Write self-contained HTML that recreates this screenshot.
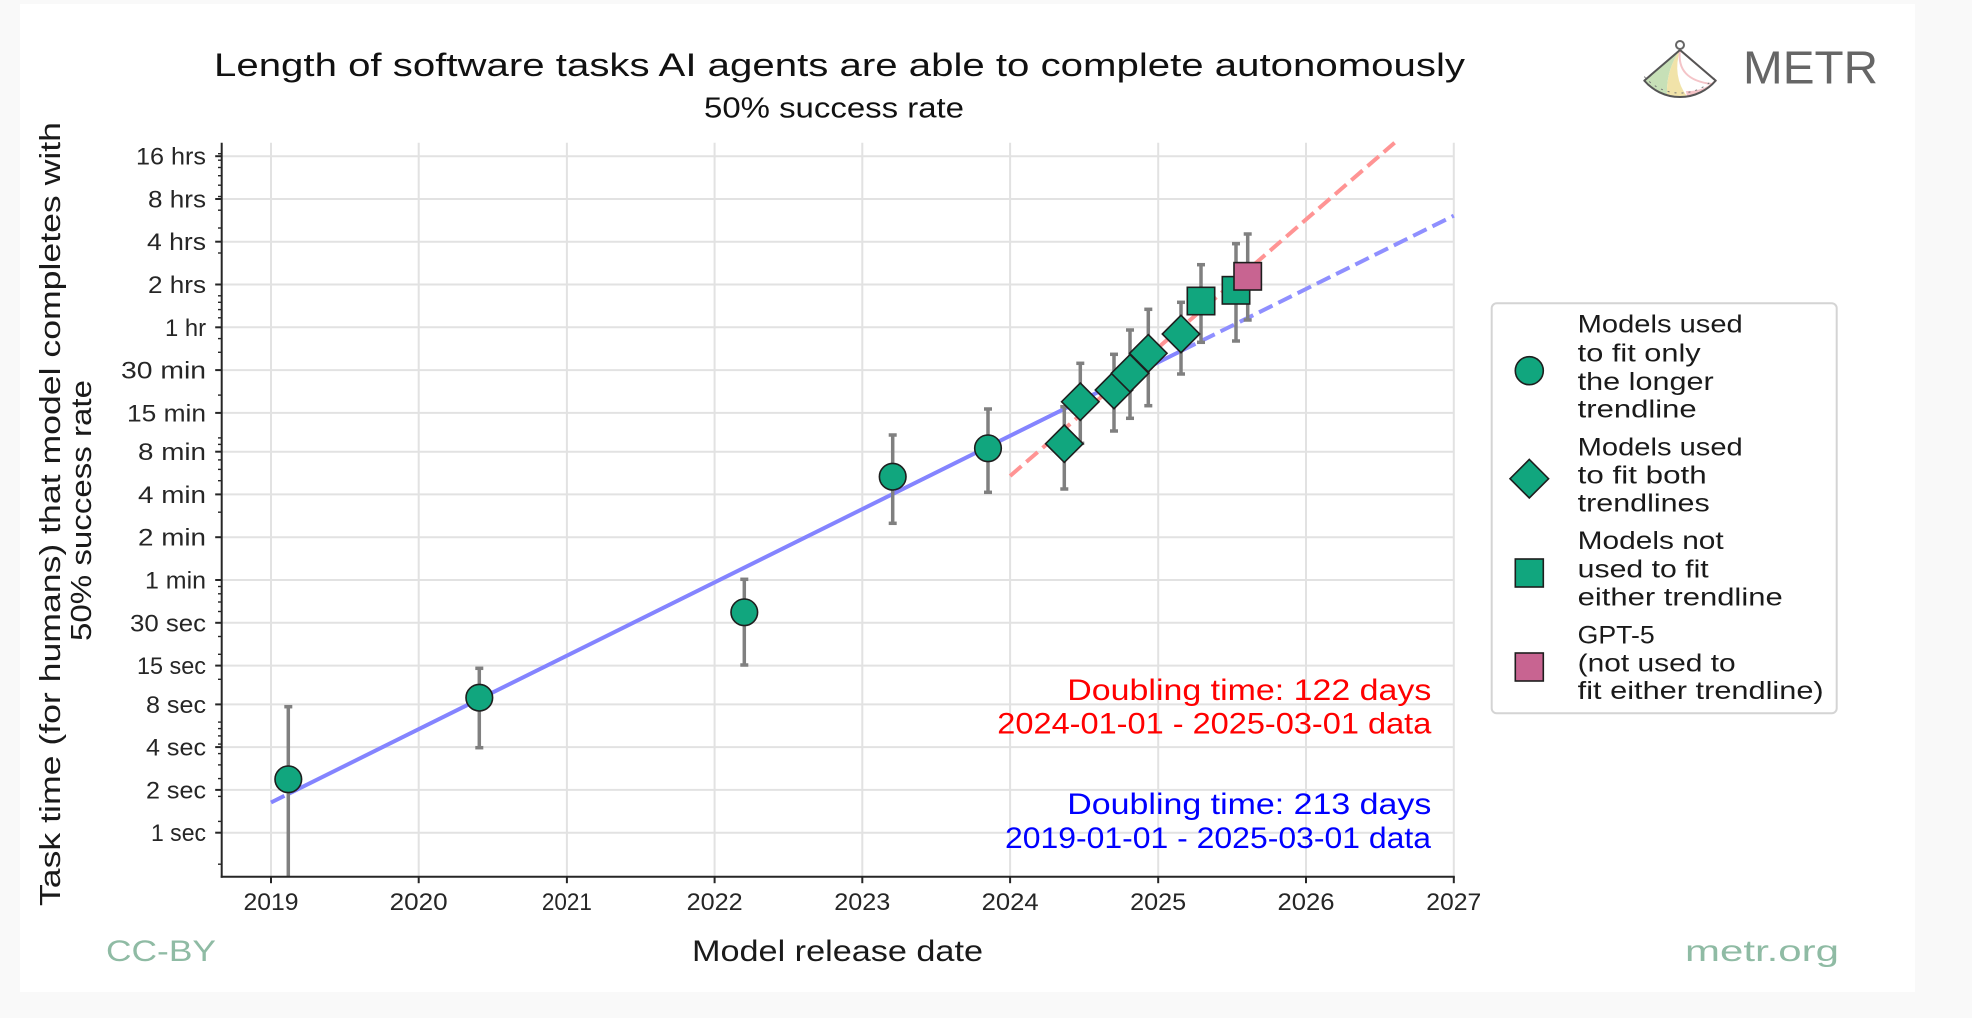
<!DOCTYPE html>
<html>
<head>
<meta charset="utf-8">
<style>
  html,body{margin:0;padding:0;background:#f9f9f9;}
  svg{display:block;}
  text{font-family:"Liberation Sans", sans-serif;}
</style>
</head>
<body>
<svg width="1972" height="1018" viewBox="0 0 1972 1018" xmlns="http://www.w3.org/2000/svg">
  <rect x="0" y="0" width="1972" height="1018" fill="#f9f9f9"/>
  <rect x="20" y="4" width="1895" height="988" fill="#ffffff"/>

  <!-- Title -->
  <text x="214" y="76" font-size="32" fill="#111" textLength="1251" lengthAdjust="spacingAndGlyphs">Length of software tasks AI agents are able to complete autonomously</text>
  <text x="704" y="117.5" font-size="29" fill="#111" textLength="260" lengthAdjust="spacingAndGlyphs">50% success rate</text>

  <!-- Logo -->
  <g>
    <path d="M1680,50 L1644.3,80.6 A47,47 0 0 0 1715.7,80.6 Z" fill="#ffffff"/>
    <path d="M1680,50 L1644.3,80.6 A47,47 0 0 0 1667,95.2 Q1666,70 1680,50 Z" fill="#c7e0b7"/>
    <path d="M1680,50 Q1666,70 1667,95.2 A47,47 0 0 0 1687,96.5 Q1672,76 1680,50 Z" fill="#f1e3a9"/>
    <path d="M1680,50 Q1676,80 1712,84 L1715.7,80.6 Z" fill="#ffffff" stroke="#f4c4c8" stroke-width="2"/>
    <path d="M1687,96.5 A47,47 0 0 0 1715.7,80.6 L1711,84 A41,41 0 0 1 1686,91 Z" fill="#f5c3c7"/>
    <path d="M1644.3,80.6 A47,47 0 0 0 1715.7,80.6" fill="none" stroke="#777" stroke-width="1" stroke-dasharray="2 5" transform="translate(0,-4)"/>
    <path d="M1680,50 L1644.3,80.6 A47,47 0 0 0 1715.7,80.6 Z" fill="none" stroke="#555" stroke-width="2" stroke-linejoin="round"/>
    <circle cx="1680" cy="45" r="4" fill="#fff" stroke="#666" stroke-width="2"/>
  </g>
  <text x="1743" y="83.5" font-size="46" fill="#666" textLength="135" lengthAdjust="spacingAndGlyphs">METR</text>

  <!-- Gridlines -->
  <g stroke="#e2e2e2" stroke-width="2">
    <line x1="271.0" y1="142.7" x2="271.0" y2="876.7"/>
    <line x1="418.7" y1="142.7" x2="418.7" y2="876.7"/>
    <line x1="566.9" y1="142.7" x2="566.9" y2="876.7"/>
    <line x1="714.6" y1="142.7" x2="714.6" y2="876.7"/>
    <line x1="862.3" y1="142.7" x2="862.3" y2="876.7"/>
    <line x1="1010.1" y1="142.7" x2="1010.1" y2="876.7"/>
    <line x1="1158.2" y1="142.7" x2="1158.2" y2="876.7"/>
    <line x1="1306.0" y1="142.7" x2="1306.0" y2="876.7"/>
    <line x1="1453.8" y1="142.7" x2="1453.8" y2="876.7"/>

    <line x1="221.7" y1="156.2" x2="1453.8" y2="156.2"/>
    <line x1="221.7" y1="199.0" x2="1453.8" y2="199.0"/>
    <line x1="221.7" y1="241.7" x2="1453.8" y2="241.7"/>
    <line x1="221.7" y1="284.5" x2="1453.8" y2="284.5"/>
    <line x1="221.7" y1="327.3" x2="1453.8" y2="327.3"/>
    <line x1="221.7" y1="370.1" x2="1453.8" y2="370.1"/>
    <line x1="221.7" y1="412.9" x2="1453.8" y2="412.9"/>
    <line x1="221.7" y1="451.7" x2="1453.8" y2="451.7"/>
    <line x1="221.7" y1="494.4" x2="1453.8" y2="494.4"/>
    <line x1="221.7" y1="537.2" x2="1453.8" y2="537.2"/>
    <line x1="221.7" y1="580.0" x2="1453.8" y2="580.0"/>
    <line x1="221.7" y1="622.8" x2="1453.8" y2="622.8"/>
    <line x1="221.7" y1="665.6" x2="1453.8" y2="665.6"/>
    <line x1="221.7" y1="704.4" x2="1453.8" y2="704.4"/>
    <line x1="221.7" y1="747.1" x2="1453.8" y2="747.1"/>
    <line x1="221.7" y1="789.9" x2="1453.8" y2="789.9"/>
    <line x1="221.7" y1="832.7" x2="1453.8" y2="832.7"/>
  </g>

  <!-- Trend lines -->
  <g fill="none" stroke-width="4">
    <line x1="271" y1="802.5" x2="288.3" y2="793.9" stroke="#8484ff" stroke-dasharray="15 6.5"/>
    <line x1="288.3" y1="793.9" x2="1182" y2="350.5" stroke="#8484ff"/>
    <line x1="1182" y1="350.5" x2="1453.8" y2="215.7" stroke="#8f8fff" stroke-dasharray="15 6.5"/>
    <line x1="1010.1" y1="476" x2="1394.6" y2="142.7" stroke="#ff9494" stroke-dasharray="15 6.5"/>
  </g>

  <!-- Error bars -->
  <g stroke="#808080" stroke-width="3.5" fill="none">
    <line x1="288.3" y1="706.7" x2="288.3" y2="876.7"/>
    <line x1="284.3" y1="706.7" x2="292.3" y2="706.7"/>
    <line x1="479.3" y1="668.3" x2="479.3" y2="747.7"/>
    <line x1="475.3" y1="668.3" x2="483.3" y2="668.3"/><line x1="475.3" y1="747.7" x2="483.3" y2="747.7"/>
    <line x1="744.3" y1="579.3" x2="744.3" y2="665"/>
    <line x1="740.3" y1="579.3" x2="748.3" y2="579.3"/><line x1="740.3" y1="665" x2="748.3" y2="665"/>
    <line x1="892.7" y1="435" x2="892.7" y2="523.3"/>
    <line x1="888.7" y1="435" x2="896.7" y2="435"/><line x1="888.7" y1="523.3" x2="896.7" y2="523.3"/>
    <line x1="988" y1="409" x2="988" y2="492.3"/>
    <line x1="984" y1="409" x2="992" y2="409"/><line x1="984" y1="492.3" x2="992" y2="492.3"/>
    <line x1="1064.3" y1="406.7" x2="1064.3" y2="489"/>
    <line x1="1060.3" y1="406.7" x2="1068.3" y2="406.7"/><line x1="1060.3" y1="489" x2="1068.3" y2="489"/>
    <line x1="1080.3" y1="363.3" x2="1080.3" y2="443.3"/>
    <line x1="1076.3" y1="363.3" x2="1084.3" y2="363.3"/><line x1="1076.3" y1="443.3" x2="1084.3" y2="443.3"/>
    <line x1="1114" y1="354.3" x2="1114" y2="431"/>
    <line x1="1110" y1="354.3" x2="1118" y2="354.3"/><line x1="1110" y1="431" x2="1118" y2="431"/>
    <line x1="1130" y1="330" x2="1130" y2="418.3"/>
    <line x1="1126" y1="330" x2="1134" y2="330"/><line x1="1126" y1="418.3" x2="1134" y2="418.3"/>
    <line x1="1148.3" y1="309.3" x2="1148.3" y2="405.7"/>
    <line x1="1144.3" y1="309.3" x2="1152.3" y2="309.3"/><line x1="1144.3" y1="405.7" x2="1152.3" y2="405.7"/>
    <line x1="1181" y1="302.3" x2="1181" y2="374"/>
    <line x1="1177" y1="302.3" x2="1185" y2="302.3"/><line x1="1177" y1="374" x2="1185" y2="374"/>
    <line x1="1201" y1="264.7" x2="1201" y2="342.3"/>
    <line x1="1197" y1="264.7" x2="1205" y2="264.7"/><line x1="1197" y1="342.3" x2="1205" y2="342.3"/>
    <line x1="1236" y1="243.7" x2="1236" y2="341"/>
    <line x1="1232" y1="243.7" x2="1240" y2="243.7"/><line x1="1232" y1="341" x2="1240" y2="341"/>
    <line x1="1247.7" y1="234" x2="1247.7" y2="320"/>
    <line x1="1243.7" y1="234" x2="1251.7" y2="234"/><line x1="1243.7" y1="320" x2="1251.7" y2="320"/>
  </g>

  <!-- Markers -->
  <g stroke="#1e1e1e" stroke-width="1.6" fill="#11a67e">
    <circle cx="288.3" cy="779.3" r="13.3"/>
    <circle cx="479.3" cy="697.7" r="13.3"/>
    <circle cx="744.3" cy="612.3" r="13.3"/>
    <circle cx="892.7" cy="476.7" r="13.3"/>
    <circle cx="988" cy="448.3" r="13.3"/>
    <polygon points="1064.3,425 1083,443.7 1064.3,462.4 1045.6,443.7"/>
    <polygon points="1080.3,383 1099,401.7 1080.3,420.4 1061.6,401.7"/>
    <polygon points="1114,371.3 1132.7,390 1114,408.7 1095.3,390"/>
    <polygon points="1130,354.6 1148.7,373.3 1130,392 1111.3,373.3"/>
    <polygon points="1148.3,334.6 1167,353.3 1148.3,372 1129.6,353.3"/>
    <polygon points="1181,315.3 1199.7,334 1181,352.7 1162.3,334"/>
    <rect x="1187.3" y="287.3" width="27.4" height="27.4"/>
    <rect x="1222.3" y="276.6" width="27.4" height="27.4"/>
    <rect x="1234" y="262.6" width="27.4" height="27.4" fill="#c86491"/>
  </g>

  <!-- Axes spines -->
  <g stroke="#262626" stroke-width="2">
    <line x1="221.7" y1="142.7" x2="221.7" y2="877.7"/>
    <line x1="220.7" y1="876.7" x2="1454.8" y2="876.7"/>
  </g>

  <!-- Major y ticks -->
  <g stroke="#262626" stroke-width="2">
    <line x1="215.2" y1="156.2" x2="221.7" y2="156.2"/>
    <line x1="215.2" y1="199.0" x2="221.7" y2="199.0"/>
    <line x1="215.2" y1="241.7" x2="221.7" y2="241.7"/>
    <line x1="215.2" y1="284.5" x2="221.7" y2="284.5"/>
    <line x1="215.2" y1="327.3" x2="221.7" y2="327.3"/>
    <line x1="215.2" y1="370.1" x2="221.7" y2="370.1"/>
    <line x1="215.2" y1="412.9" x2="221.7" y2="412.9"/>
    <line x1="215.2" y1="451.7" x2="221.7" y2="451.7"/>
    <line x1="215.2" y1="494.4" x2="221.7" y2="494.4"/>
    <line x1="215.2" y1="537.2" x2="221.7" y2="537.2"/>
    <line x1="215.2" y1="580.0" x2="221.7" y2="580.0"/>
    <line x1="215.2" y1="622.8" x2="221.7" y2="622.8"/>
    <line x1="215.2" y1="665.6" x2="221.7" y2="665.6"/>
    <line x1="215.2" y1="704.4" x2="221.7" y2="704.4"/>
    <line x1="215.2" y1="747.1" x2="221.7" y2="747.1"/>
    <line x1="215.2" y1="789.9" x2="221.7" y2="789.9"/>
    <line x1="215.2" y1="832.7" x2="221.7" y2="832.7"/>
    <!-- x ticks -->
    <line x1="271.0" y1="876.7" x2="271.0" y2="883.2"/>
    <line x1="418.7" y1="876.7" x2="418.7" y2="883.2"/>
    <line x1="566.9" y1="876.7" x2="566.9" y2="883.2"/>
    <line x1="714.6" y1="876.7" x2="714.6" y2="883.2"/>
    <line x1="862.3" y1="876.7" x2="862.3" y2="883.2"/>
    <line x1="1010.1" y1="876.7" x2="1010.1" y2="883.2"/>
    <line x1="1158.2" y1="876.7" x2="1158.2" y2="883.2"/>
    <line x1="1306.0" y1="876.7" x2="1306.0" y2="883.2"/>
    <line x1="1453.8" y1="876.7" x2="1453.8" y2="883.2"/>
  </g>
  <!-- Minor y ticks -->
  <g stroke="#262626" stroke-width="1.4">
    <line x1="218" y1="153.7" x2="221.7" y2="153.7"/>
    <line x1="218" y1="160.2" x2="221.7" y2="160.2"/>
    <line x1="218" y1="167.5" x2="221.7" y2="167.5"/>
    <line x1="218" y1="175.7" x2="221.7" y2="175.7"/>
    <line x1="218" y1="185.2" x2="221.7" y2="185.2"/>
    <line x1="218" y1="196.5" x2="221.7" y2="196.5"/>
    <line x1="218" y1="210.2" x2="221.7" y2="210.2"/>
    <line x1="218" y1="228.0" x2="221.7" y2="228.0"/>
    <line x1="218" y1="253.0" x2="221.7" y2="253.0"/>
    <line x1="218" y1="295.8" x2="221.7" y2="295.8"/>
    <line x1="218" y1="302.3" x2="221.7" y2="302.3"/>
    <line x1="218" y1="309.6" x2="221.7" y2="309.6"/>
    <line x1="218" y1="317.8" x2="221.7" y2="317.8"/>
    <line x1="218" y1="338.6" x2="221.7" y2="338.6"/>
    <line x1="218" y1="352.3" x2="221.7" y2="352.3"/>
    <line x1="218" y1="395.1" x2="221.7" y2="395.1"/>
    <line x1="218" y1="437.9" x2="221.7" y2="437.9"/>
    <line x1="218" y1="444.4" x2="221.7" y2="444.4"/>
    <line x1="218" y1="459.9" x2="221.7" y2="459.9"/>
    <line x1="218" y1="469.4" x2="221.7" y2="469.4"/>
    <line x1="218" y1="480.7" x2="221.7" y2="480.7"/>
    <line x1="218" y1="512.2" x2="221.7" y2="512.2"/>
    <line x1="218" y1="586.5" x2="221.7" y2="586.5"/>
    <line x1="218" y1="593.8" x2="221.7" y2="593.8"/>
    <line x1="218" y1="602.0" x2="221.7" y2="602.0"/>
    <line x1="218" y1="611.5" x2="221.7" y2="611.5"/>
    <line x1="218" y1="636.5" x2="221.7" y2="636.5"/>
    <line x1="218" y1="654.3" x2="221.7" y2="654.3"/>
    <line x1="218" y1="679.3" x2="221.7" y2="679.3"/>
    <line x1="218" y1="722.1" x2="221.7" y2="722.1"/>
    <line x1="218" y1="728.6" x2="221.7" y2="728.6"/>
    <line x1="218" y1="735.9" x2="221.7" y2="735.9"/>
    <line x1="218" y1="744.1" x2="221.7" y2="744.1"/>
    <line x1="218" y1="753.6" x2="221.7" y2="753.6"/>
    <line x1="218" y1="764.9" x2="221.7" y2="764.9"/>
    <line x1="218" y1="778.6" x2="221.7" y2="778.6"/>
    <line x1="218" y1="796.4" x2="221.7" y2="796.4"/>
    <line x1="218" y1="821.4" x2="221.7" y2="821.4"/>
    <line x1="218" y1="864.2" x2="221.7" y2="864.2"/>
  </g>

  <!-- Y tick labels -->
  <g font-size="24" fill="#262626">
    <text x="136" y="164.7" textLength="70" lengthAdjust="spacingAndGlyphs">16 hrs</text>
    <text x="148" y="207.5" textLength="58" lengthAdjust="spacingAndGlyphs">8 hrs</text>
    <text x="147" y="250.2" textLength="59" lengthAdjust="spacingAndGlyphs">4 hrs</text>
    <text x="148" y="293.0" textLength="58" lengthAdjust="spacingAndGlyphs">2 hrs</text>
    <text x="165" y="335.8" textLength="41" lengthAdjust="spacingAndGlyphs">1 hr</text>
    <text x="121" y="378.6" textLength="85" lengthAdjust="spacingAndGlyphs">30 min</text>
    <text x="127" y="421.4" textLength="79" lengthAdjust="spacingAndGlyphs">15 min</text>
    <text x="138" y="460.2" textLength="68" lengthAdjust="spacingAndGlyphs">8 min</text>
    <text x="138" y="502.9" textLength="68" lengthAdjust="spacingAndGlyphs">4 min</text>
    <text x="138" y="545.7" textLength="68" lengthAdjust="spacingAndGlyphs">2 min</text>
    <text x="145" y="588.5" textLength="61" lengthAdjust="spacingAndGlyphs">1 min</text>
    <text x="130" y="631.3" textLength="76" lengthAdjust="spacingAndGlyphs">30 sec</text>
    <text x="137" y="674.1" textLength="69" lengthAdjust="spacingAndGlyphs">15 sec</text>
    <text x="146" y="712.9" textLength="60" lengthAdjust="spacingAndGlyphs">8 sec</text>
    <text x="146" y="755.6" textLength="60" lengthAdjust="spacingAndGlyphs">4 sec</text>
    <text x="146" y="798.4" textLength="60" lengthAdjust="spacingAndGlyphs">2 sec</text>
    <text x="151" y="841.2" textLength="55" lengthAdjust="spacingAndGlyphs">1 sec</text>
  </g>

  <!-- X tick labels -->
  <g font-size="24" fill="#262626">
    <text x="243.5" y="910" textLength="55" lengthAdjust="spacingAndGlyphs">2019</text>
    <text x="389.7" y="910" textLength="58" lengthAdjust="spacingAndGlyphs">2020</text>
    <text x="541.9" y="910" textLength="50" lengthAdjust="spacingAndGlyphs">2021</text>
    <text x="686.6" y="910" textLength="56" lengthAdjust="spacingAndGlyphs">2022</text>
    <text x="834.3" y="910" textLength="56" lengthAdjust="spacingAndGlyphs">2023</text>
    <text x="981.6" y="910" textLength="57" lengthAdjust="spacingAndGlyphs">2024</text>
    <text x="1130.2" y="910" textLength="56" lengthAdjust="spacingAndGlyphs">2025</text>
    <text x="1277.5" y="910" textLength="57" lengthAdjust="spacingAndGlyphs">2026</text>
    <text x="1426.3" y="910" textLength="55" lengthAdjust="spacingAndGlyphs">2027</text>
  </g>

  <!-- Annotations -->
  <g font-size="30">
    <text x="1067.3" y="700" fill="#ff0000" textLength="364" lengthAdjust="spacingAndGlyphs">Doubling time: 122 days</text>
    <text x="997.3" y="733.5" fill="#ff0000" textLength="434" lengthAdjust="spacingAndGlyphs">2024-01-01 - 2025-03-01 data</text>
    <text x="1067.3" y="814" fill="#0000ff" textLength="364" lengthAdjust="spacingAndGlyphs">Doubling time: 213 days</text>
    <text x="1005" y="848" fill="#0000ff" textLength="426" lengthAdjust="spacingAndGlyphs">2019-01-01 - 2025-03-01 data</text>
  </g>

  <!-- Axis labels -->
  <text x="692" y="961" font-size="30" fill="#1a1a1a" textLength="291" lengthAdjust="spacingAndGlyphs">Model release date</text>
  <text transform="translate(60,906) rotate(-90)" x="0" y="0" font-size="29" fill="#1a1a1a" textLength="784" lengthAdjust="spacingAndGlyphs">Task time (for humans) that model completes with</text>
  <text transform="translate(91,641) rotate(-90)" x="0" y="0" font-size="29" fill="#1a1a1a" textLength="261" lengthAdjust="spacingAndGlyphs">50% success rate</text>

  <!-- Footer -->
  <text x="106" y="961" font-size="30" fill="#8fbba4" textLength="110" lengthAdjust="spacingAndGlyphs">CC-BY</text>
  <text x="1685" y="961" font-size="30" fill="#8fbba4" textLength="154" lengthAdjust="spacingAndGlyphs">metr.org</text>

  <!-- Legend -->
  <rect x="1491.7" y="303.3" width="345" height="410" rx="5" ry="5" fill="#ffffff" stroke="#d4d4d4" stroke-width="2"/>
  <g stroke="#1e1e1e" stroke-width="1.6" fill="#11a67e">
    <circle cx="1529.3" cy="370.7" r="14"/>
    <polygon points="1529.3,459.4 1548.6,478.7 1529.3,498 1510,478.7"/>
    <rect x="1515.3" y="559" width="28" height="28"/>
    <rect x="1515.3" y="653" width="28" height="28" fill="#c86491"/>
  </g>
  <g font-size="25" fill="#1a1a1a">
    <text x="1577.7" y="332.7" textLength="165" lengthAdjust="spacingAndGlyphs">Models used</text>
    <text x="1577.7" y="361.7" textLength="123" lengthAdjust="spacingAndGlyphs">to fit only</text>
    <text x="1577.7" y="390" textLength="136" lengthAdjust="spacingAndGlyphs">the longer</text>
    <text x="1577.7" y="417.7" textLength="119" lengthAdjust="spacingAndGlyphs">trendline</text>
    <text x="1577.7" y="455.7" textLength="165" lengthAdjust="spacingAndGlyphs">Models used</text>
    <text x="1577.7" y="483.3" textLength="129" lengthAdjust="spacingAndGlyphs">to fit both</text>
    <text x="1577.7" y="511.7" textLength="132" lengthAdjust="spacingAndGlyphs">trendlines</text>
    <text x="1577.7" y="549" textLength="146" lengthAdjust="spacingAndGlyphs">Models not</text>
    <text x="1577.7" y="577.7" textLength="131" lengthAdjust="spacingAndGlyphs">used to fit</text>
    <text x="1577.7" y="605.7" textLength="205" lengthAdjust="spacingAndGlyphs">either trendline</text>
    <text x="1577.7" y="643.3" textLength="77" lengthAdjust="spacingAndGlyphs">GPT-5</text>
    <text x="1577.7" y="671.7" textLength="158" lengthAdjust="spacingAndGlyphs">(not used to</text>
    <text x="1577.7" y="699" textLength="246" lengthAdjust="spacingAndGlyphs">fit either trendline)</text>
  </g>
</svg>
</body>
</html>
